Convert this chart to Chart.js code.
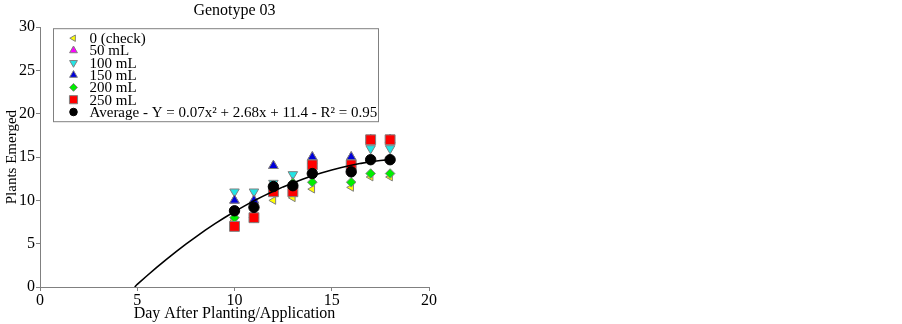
<!DOCTYPE html>
<html><head><meta charset="utf-8">
<script src="https://cdn.jsdelivr.net/npm/chart.js@4.4.1/dist/chart.umd.min.js"></script>
<style>html,body{margin:0;padding:0;background:#fff;}#wrap{width:902px;height:324px;}</style>
</head><body><div id="wrap"><canvas id="c" width="902" height="324"></canvas></div>
<script>
const titleText = 'Genotype 03';
const xTitle = 'Day After Planting/Application';
const yTitle = 'Plants Emerged';
const days = [10, 11, 12, 13, 14, 16, 17, 18];
const seriesNames = ['0 (check)', '50 mL', '100 mL', '150 mL', '200 mL', '250 mL'];
const check0 = [7.7, 8, 10, 10.3, 11.3, 11.5, 12.7, 12.7];
const ml50 = [10, 10, 14, 12, 15, 15, 17, 17];
const ml100 = [11, 11, 12, 13, 14, 14, 16, 16];
const ml150 = [10, 10, 14, 12, 15, 15, 17, 17];
const ml200 = [8, 8, 11.5, 12, 12.1, 12.1, 13.1, 13.1];
const ml250 = [7, 8, 11, 11, 14.1, 14.1, 17, 17];
const average = [8.8, 9.2, 11.6, 11.7, 13.1, 13.3, 14.7, 14.7];
const avgLabel = 'Average - Y = 0.07x\u00B2 + 2.68x + 11.4 - R\u00B2 = 0.95';
const fitX = [4.87, 5, 5.5, 6, 6.5, 7, 7.5, 8, 8.5, 9, 9.5, 10, 10.5, 11, 11.5, 12, 12.5, 13, 13.5, 14, 14.5, 15, 15.5, 16, 16.5, 17, 17.5, 18];
const fitY = [0, 0.31, 1.30, 2.27, 3.20, 4.09, 4.95, 5.77, 6.56, 7.31, 8.02, 8.70, 9.34, 9.95, 10.52, 11.06, 11.56, 12.02, 12.45, 12.85, 13.20, 13.52, 13.81, 14.06, 14.28, 14.46, 14.60, 14.71];
const xTickValues = [0, 5, 10, 15, 20];
const yTickValues = [0, 5, 10, 15, 20, 25, 30];

const SERIF = "'Liberation Serif', 'Times New Roman', serif";
const GRAY = '#808080';
const pts = arr => days.map((d, i) => ({x: d, y: arr[i]}));

const styles = [
  {bg: '#FFFF00', style: 'triangle', rot: 270, r: 4.5},
  {bg: '#FF00FF', style: 'triangle', rot: 0, r: 5.5},
  {bg: '#22E5E5', style: 'triangle', rot: 180, r: 5.5},
  {bg: '#0000D8', style: 'triangle', rot: 0, r: 5.5},
  {bg: '#00EE00', style: 'rectRot', rot: 0, r: 4.8},
  {bg: '#FF0000', style: 'rect', rot: 0, r: 7}
];
const seriesData = [check0, ml50, ml100, ml150, ml200, ml250];

const datasets = seriesData.map((arr, i) => ({
  label: seriesNames[i],
  data: pts(arr),
  pointStyle: styles[i].style,
  rotation: styles[i].rot,
  pointRadius: styles[i].r,
  pointHoverRadius: styles[i].r,
  backgroundColor: styles[i].bg,
  borderColor: GRAY,
  borderWidth: 1,
  order: 10 - i
}));
datasets.push({
  label: avgLabel,
  data: pts(average),
  pointStyle: 'circle',
  pointRadius: 5.2,
  pointHoverRadius: 5.2,
  backgroundColor: '#000',
  borderColor: '#000',
  borderWidth: 1,
  order: 2
});
datasets.push({
  label: 'fit',
  data: fitX.map((x, i) => ({x: x, y: fitY[i]})),
  showLine: true,
  pointRadius: 0,
  borderColor: '#000',
  borderWidth: 1.6,
  tension: 0,
  fill: false,
  order: 1
});

const legendBox = {
  id: 'legendBox',
  afterDraw(chart) {
    const ctx = chart.ctx;
    const ca = chart.chartArea;
    const left = ca.left + 13.5, top = ca.top + 1.5, w = 325, h = 93;
    ctx.save();
    ctx.fillStyle = '#fff';
    ctx.fillRect(left, top, w, h);
    ctx.strokeStyle = GRAY;
    ctx.lineWidth = 1;
    ctx.strokeRect(left, top, w, h);
    const labels = seriesNames.concat([avgLabel]);
    const mstyles = styles.concat([{bg: '#000', style: 'circle', rot: 0, r: 4.6}]);
    ctx.font = '15px ' + SERIF;
    ctx.textBaseline = 'middle';
    ctx.textAlign = 'left';
    for (let i = 0; i < labels.length; i++) {
      const y = top + 9.5 + i * 12.3;
      const s = mstyles[i];
      ctx.fillStyle = s.bg;
      ctx.strokeStyle = i === 6 ? '#000' : GRAY;
      ctx.lineWidth = 1;
      Chart.helpers.drawPoint(ctx, {pointStyle: s.style, rotation: s.rot, radius: Math.max(3.6, s.r * 0.82), borderWidth: 1}, left + 20, y);
      ctx.fillStyle = '#000';
      ctx.fillText(labels[i], left + 36, y + 1);
    }
    ctx.restore();
  }
};

new Chart(document.getElementById('c'), {
  type: 'scatter',
  data: {datasets: datasets},
  plugins: [legendBox],
  options: {
    responsive: false,
    animation: false,
    events: [],
    layout: {padding: {left: 0, right: 473, top: 0, bottom: 0}},
    plugins: {
      legend: {display: false},
      tooltip: {enabled: false},
      title: {
        display: true, text: titleText, color: '#000', fullSize: false,
        font: {family: SERIF, size: 16, weight: 'normal', lineHeight: 1.2},
        padding: {top: 1, bottom: 7}
      }
    },
    scales: {
      x: {
        type: 'linear', min: 0, max: 20,
        afterBuildTicks: s => { s.ticks = xTickValues.map(v => ({value: v})); },
        afterFit: s => { s.height = 37; },
        border: {color: GRAY, width: 1},
        grid: {display: true, drawOnChartArea: false, drawTicks: true, tickLength: 4, color: GRAY},
        ticks: {color: '#000', font: {family: SERIF, size: 16}, padding: 0, maxRotation: 0},
        title: {display: true, text: xTitle, color: '#000', font: {family: SERIF, size: 16, lineHeight: 1.2}, padding: {top: 0, bottom: 1}}
      },
      y: {
        type: 'linear', min: 0, max: 30,
        afterBuildTicks: s => { s.ticks = yTickValues.map(v => ({value: v})); },
        afterFit: s => { s.width = 40; },
        border: {color: GRAY, width: 1},
        grid: {display: true, drawOnChartArea: false, drawTicks: true, tickLength: 4, color: GRAY},
        ticks: {color: '#000', font: {family: SERIF, size: 16}, padding: 1},
        title: {display: true, text: yTitle, color: '#000', font: {family: SERIF, size: 15, lineHeight: 1.2}, padding: {top: 3, bottom: 0}}
      }
    }
  }
});
</script>
</body></html>
